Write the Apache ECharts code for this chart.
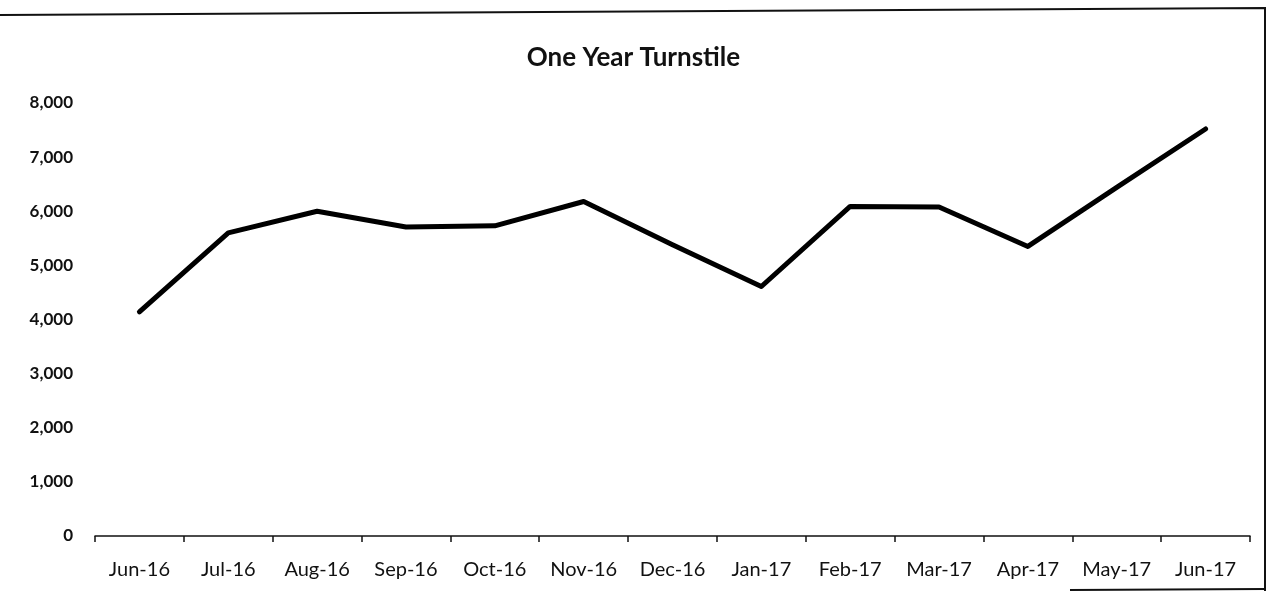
<!DOCTYPE html>
<html>
<head>
<meta charset="utf-8">
<script src="https://cdn.jsdelivr.net/npm/echarts@6/dist/echarts.min.js"></script>
<style>
  html, body { margin: 0; padding: 0; background: #fff; }
  #chart { width: 1267px; height: 591px; }
</style>
</head>
<body>
<div id="chart"></div>
<script>
// Monthly turnstile counts, June 2016 – June 2017
const months = ['Jun-16', 'Jul-16', 'Aug-16', 'Sep-16', 'Oct-16', 'Nov-16', 'Dec-16',
                'Jan-17', 'Feb-17', 'Mar-17', 'Apr-17', 'May-17', 'Jun-17'];
const turnstile = [4140, 5600, 6000, 5710, 5730, 6180, 5380, 4610, 6090, 6080, 5350, 6440, 7520];

const FONT = 'Lato, "Open Sans", sans-serif';

const chart = echarts.init(document.getElementById('chart'), null, { renderer: 'canvas' });
chart.setOption({
  animation: false,
  backgroundColor: '#ffffff',
  title: {
    text: 'One Year Turnstile',
    left: 'center',
    top: 40,
    textStyle: { fontFamily: FONT, fontWeight: 'bold', fontSize: 26, color: '#111' }
  },
  grid: { left: 95, right: 17, top: 103, bottom: 55 },
  xAxis: {
    type: 'category',
    data: months,
    boundaryGap: true,
    axisLine: { show: true, lineStyle: { color: '#111', width: 1.5 } },
    axisTick: { show: true, interval: 0, inside: false, length: 6, lineStyle: { color: '#111', width: 1.5 } },
    axisLabel: { interval: 0, hideOverlap: false, fontFamily: FONT, fontSize: 20, color: '#111', margin: 24 },
    splitLine: { show: false }
  },
  yAxis: {
    type: 'value',
    min: 0,
    max: 8000,
    interval: 1000,
    axisLine: { show: false },
    axisTick: { show: false },
    splitLine: { show: false },
    axisLabel: {
      fontFamily: FONT, fontSize: 17, fontWeight: 'bold', color: '#111', margin: 22,
      formatter: v => v.toLocaleString('en-US')
    }
  },
  series: [{
    type: 'line',
    data: turnstile,
    showSymbol: false,
    symbol: 'none',
    smooth: false,
    lineStyle: { color: '#000', width: 5, join: 'round', cap: 'round' }
  }],
  graphic: [
    // outer chart frame
    { type: 'polyline', silent: true,
      shape: { points: [[0, 15], [1265, 8], [1265, 591]] },
      style: { stroke: '#111', lineWidth: 2, fill: null } },
    { type: 'line', silent: true,
      shape: { x1: 1070, y1: 590, x2: 1265, y2: 589 },
      style: { stroke: '#111', lineWidth: 2 } }
  ]
});
</script>
</body>
</html>
